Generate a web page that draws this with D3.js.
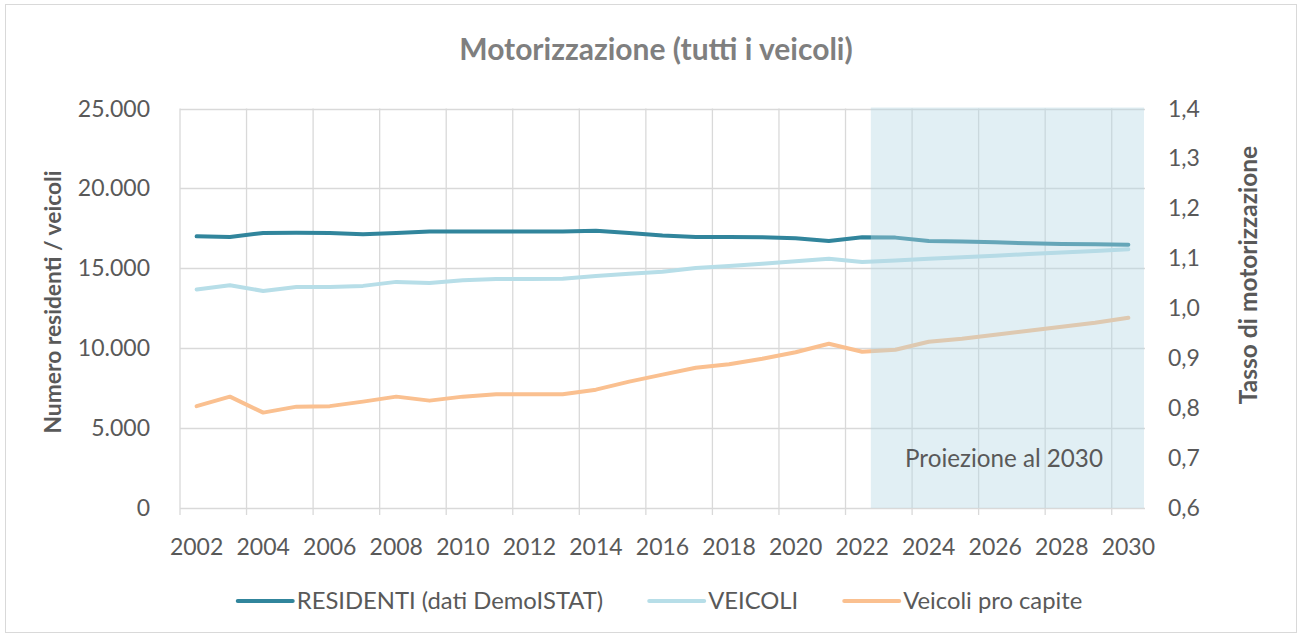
<!DOCTYPE html>
<html><head><meta charset="utf-8">
<script src="https://cdn.jsdelivr.net/npm/d3@7"></script>
<style>body{margin:0;background:#fff;} svg{display:block;font-family:Lato,"Open Sans",sans-serif;}</style>
</head><body><svg id="c" width="1302" height="636"></svg>
<script>
const years = [2002,2003,2004,2005,2006,2007,2008,2009,2010,2011,2012,2013,2014,2015,2016,2017,2018,2019,2020,2021,2022,2023,2024,2025,2026,2027,2028,2029,2030];
const residenti = [17000,16960,17210,17230,17210,17125,17210,17310,17300,17300,17310,17310,17350,17210,17060,16960,16960,16940,16875,16710,16940,16920,16710,16670,16625,16565,16520,16500,16480];
const veicoli = [13670,13940,13580,13830,13830,13900,14150,14085,14250,14330,14330,14350,14520,14665,14780,15020,15145,15290,15440,15600,15400,15490,15590,15690,15790,15890,15990,16090,16190];
const proCapite = [0.804,0.823,0.791,0.803,0.804,0.813,0.823,0.815,0.823,0.828,0.828,0.828,0.837,0.853,0.867,0.881,0.888,0.899,0.912,0.929,0.913,0.917,0.933,0.939,0.947,0.955,0.963,0.971,0.981];
const xTickYears = [2002,2004,2006,2008,2010,2012,2014,2016,2018,2020,2022,2024,2026,2028,2030];
const leftTicks = [0,5000,10000,15000,20000,25000];
const rightTicks = [0.6,0.7,0.8,0.9,1.0,1.1,1.2,1.3,1.4];
const seriesNames = ["RESIDENTI (dati DemoISTAT)","VEICOLI","Veicoli pro capite"];
const seriesColors = ["#31859C","#B7DEE8","#FAC090"];
const chartTitle = "Motorizzazione (tutti i veicoli)";
const leftTitle = "Numero residenti / veicoli";
const rightTitle = "Tasso di motorizzazione";
const shadeLabel = "Proiezione al 2030";
const shadeFromYear = 2022;

const loc = d3.formatLocale({decimal:",", thousands:".", grouping:[3], currency:["€",""]});
const fmtL = loc.format(",d"), fmtR = loc.format(".1f");

const svg = d3.select("#c");
const L = 180, R = 1145, T = 108.5, B = 508;
const x = d3.scaleBand().domain(years).range([L, R]).padding(0);
const bw = x.bandwidth();
const cx = d => x(d) + bw/2;
const yL = d3.scaleLinear().domain([0,25000]).range([B, T]);
const yR = d3.scaleLinear().domain([0.6,1.4]).range([B, T]);

// chart border
svg.append("rect").attr("x",5.5).attr("y",4.5).attr("width",1291).attr("height",628)
  .attr("fill","#fff").attr("stroke","#D9D9D9").attr("stroke-width",1);

// horizontal gridlines (left axis)
svg.append("g").selectAll("line").data(leftTicks).join("line")
  .attr("x1",L).attr("x2",R).attr("y1",d=>Math.round(yL(d))+0.5).attr("y2",d=>Math.round(yL(d))+0.5)
  .attr("stroke","#D9D9D9").attr("stroke-width",1.3);
// vertical gridlines at every other category boundary
svg.append("g").selectAll("line").data(xTickYears).join("line")
  .attr("x1",d=>x(d)).attr("x2",d=>x(d)).attr("y1",T).attr("y2",B+7)
  .attr("stroke","#D9D9D9").attr("stroke-width",1.3);

// x tick labels
svg.append("g").selectAll("text").data(xTickYears).join("text")
  .attr("x",d=>cx(d)).attr("y",555).attr("text-anchor","middle")
  .attr("fill","#595959").style("font-size","23px").text(d=>d);
// left tick labels
svg.append("g").selectAll("text").data(leftTicks).join("text")
  .attr("x",150).attr("y",d=>yL(d)).attr("dy","0.35em").attr("text-anchor","end")
  .attr("fill","#595959").style("font-size","23px").text(d=>fmtL(d));
// right tick labels
svg.append("g").selectAll("text").data(rightTicks).join("text")
  .attr("x",1168).attr("y",d=>yR(d)).attr("dy","0.35em").attr("text-anchor","start")
  .attr("fill","#595959").style("font-size","23px").text(d=>fmtR(d));

// lines
const lineL = d3.line().x((d,i)=>cx(years[i])).y(d=>yL(d));
const lineR = d3.line().x((d,i)=>cx(years[i])).y(d=>yR(d));
const g = svg.append("g").attr("fill","none").attr("stroke-width",4).attr("stroke-linejoin","round").attr("stroke-linecap","round");
g.append("path").attr("d",lineL(residenti)).attr("stroke",seriesColors[0]);
g.append("path").attr("d",lineL(veicoli)).attr("stroke",seriesColors[1]);
g.append("path").attr("d",lineR(proCapite)).attr("stroke",seriesColors[2]);

// projection shading (semi-transparent overlay)
const sx = x(shadeFromYear) + bw*0.76;
svg.append("rect").attr("x",sx).attr("y",T-1).attr("width",R-1-sx).attr("height",B-T+1)
  .attr("fill","rgb(179,214,227)").attr("fill-opacity",0.4);
svg.append("text").attr("x",1004).attr("y",467).attr("text-anchor","middle")
  .attr("fill","#595959").style("font-size","24.2px").text(shadeLabel);

// title
svg.append("text").attr("x",656).attr("y",60).attr("text-anchor","middle")
  .attr("fill","#7F7F7F").style("font-size","30px").style("font-weight","bold").text(chartTitle);
// axis titles
svg.append("text").attr("transform","translate(53,302) rotate(-90)").attr("dy","0.35em").attr("text-anchor","middle")
  .attr("fill","#595959").style("font-size","22.8px").style("font-weight","bold").text(leftTitle);
svg.append("text").attr("transform","translate(1248,275) rotate(-90)").attr("dy","0.35em").attr("text-anchor","middle")
  .attr("fill","#595959").style("font-size","24.5px").style("font-weight","bold").text(rightTitle);

// legend
const lg = svg.append("g");
const items = seriesNames.map((n,i)=>{
  const it = lg.append("g");
  it.append("line").attr("x1",0).attr("x2",55).attr("y1",0).attr("y2",0)
    .attr("stroke",seriesColors[i]).attr("stroke-width",4).attr("stroke-linecap","round");
  const t = it.append("text").attr("x",59).attr("y",0).attr("dy","0.35em")
    .attr("fill","#595959").style("font-size","23.8px").text(n);
  return {g:it, w:59 + t.node().getComputedTextLength()};
});
const gap = 46;
const total = d3.sum(items, d=>d.w) + gap*(items.length-1);
let lx = 660 - total/2;
items.forEach(it=>{ it.g.attr("transform",`translate(${lx},601)`); lx += it.w + gap; });
</script>
</body></html>
